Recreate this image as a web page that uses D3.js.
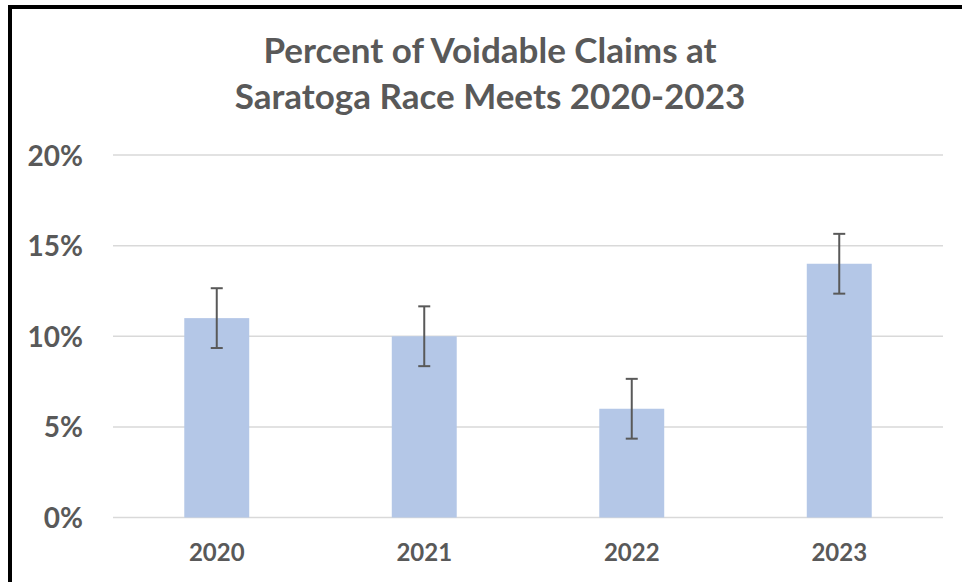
<!DOCTYPE html>
<html>
<head>
<meta charset="utf-8">
<script src="https://cdn.jsdelivr.net/npm/d3@7"></script>
<style>
  body { margin: 0; background: #fff; }
  svg { display: block; font-family: Lato, "Open Sans", sans-serif; font-weight: bold; }
</style>
</head>
<body>
<div id="chart"></div>
<script>
// chart values
var years = ["2020", "2021", "2022", "2023"];
var voidPct = [11, 10, 6, 14];
var errPct = [1.65, 1.65, 1.65, 1.65];
var yTicks = [0, 5, 10, 15, 20];
var titleLines = ["Percent of Voidable Claims at", "Saratoga Race Meets 2020-2023"];

var W = 962, H = 582;
var textColor = "#595959";

var svg = d3.select("#chart").append("svg")
	.attr("width", W)
	.attr("height", H);

// frame (left + top edges visible)
svg.append("path")
	.attr("d", "M10,582 V7 H962")
	.attr("fill", "none")
	.attr("stroke", "#000")
	.attr("stroke-width", 4);

var x = d3.scaleBand()
	.domain(years)
	.range([113, 943])
	.paddingInner(0.687)
	.paddingOuter(0.687 / 2);

var y = d3.scaleLinear()
	.domain([0, 20])
	.range([517.5, 155]);

// gridlines
svg.append("g")
	.selectAll("line")
	.data(yTicks)
	.enter()
		.append("line")
			.attr("x1", 113)
			.attr("x2", 943)
			.attr("y1", function(d) { return y(d); })
			.attr("y2", function(d) { return y(d); })
			.attr("stroke", "#d9d9d9")
			.attr("stroke-width", 1.5);

// y axis labels
var yAxis = d3.axisLeft(y)
	.tickValues(yTicks)
	.tickSize(0)
	.tickPadding(0)
	.tickFormat(function(d) { return d + "%"; });

var ya = svg.append("g")
	.attr("transform", "translate(83,0)")
	.call(yAxis);
ya.select(".domain").remove();
ya.selectAll("text")
	.attr("fill", textColor)
	.attr("font-size", 28)
	.attr("font-family", "Lato, sans-serif")
	.attr("font-weight", "bold")
	.attr("dy", "0.36em");

// bars
svg.append("g")
	.selectAll("rect")
	.data(voidPct)
	.enter()
		.append("rect")
			.attr("x", function(d, i) { return x(years[i]); })
			.attr("width", x.bandwidth())
			.attr("y", function(d) { return y(d); })
			.attr("height", function(d) { return y(0) - y(d); })
			.attr("fill", "#b4c7e7");

// error bars
var eb = svg.append("g")
	.selectAll("g")
	.data(voidPct)
	.enter()
		.append("g")
			.attr("stroke", "#595959")
			.attr("stroke-width", 2);

eb.append("line")
	.attr("x1", function(d, i) { return x(years[i]) + x.bandwidth() / 2; })
	.attr("x2", function(d, i) { return x(years[i]) + x.bandwidth() / 2; })
	.attr("y1", function(d, i) { return y(d + errPct[i]); })
	.attr("y2", function(d, i) { return y(d - errPct[i]); });

[1, -1].forEach(function(s) {
	eb.append("line")
		.attr("x1", function(d, i) { return x(years[i]) + x.bandwidth() / 2 - 6; })
		.attr("x2", function(d, i) { return x(years[i]) + x.bandwidth() / 2 + 6; })
		.attr("y1", function(d, i) { return y(d + s * errPct[i]); })
		.attr("y2", function(d, i) { return y(d + s * errPct[i]); });
});

// x axis labels
var xAxis = d3.axisBottom(x).tickSize(0).tickPadding(0);
var xa = svg.append("g")
	.attr("transform", "translate(0,561)")
	.call(xAxis);
xa.select(".domain").remove();
xa.selectAll("text")
	.attr("fill", textColor)
	.attr("font-size", 24)
	.attr("font-family", "Lato, sans-serif")
	.attr("font-weight", "bold")
	.attr("dy", 0);

// title
svg.append("g")
	.selectAll("text")
	.data(titleLines)
	.enter()
		.append("text")
			.attr("x", 490)
			.attr("y", function(d, i) { return 63 + i * 46; })
			.attr("text-anchor", "middle")
			.attr("fill", textColor)
			.attr("font-size", 35)
			.text(function(d) { return d; });
</script>
</body>
</html>
